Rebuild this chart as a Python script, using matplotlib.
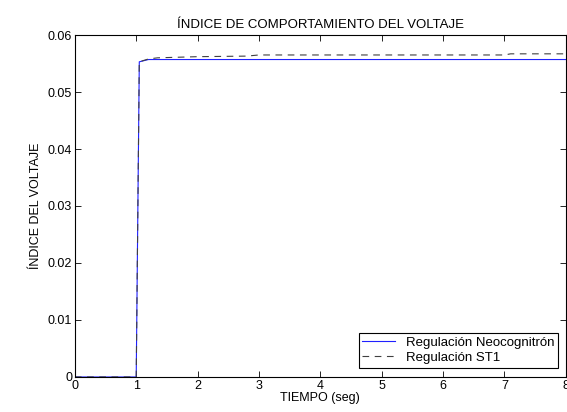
import matplotlib
matplotlib.use("Agg")
import matplotlib.pyplot as plt

plt.rcParams["font.family"] = ["Liberation Sans", "DejaVu Sans"]

# Time (s) and voltage index for each regulator
t_neo = [0.0, 1.0, 1.05, 1.2, 8.0]
v_neo = [0.0, 0.0, 0.0553, 0.0557, 0.0557]

t_st1 = [0.0, 1.0, 1.05, 1.2, 1.35, 2.0, 2.8, 3.0, 7.0, 7.1, 8.0]
v_st1 = [0.0, 0.0, 0.0553, 0.0558, 0.0560, 0.0562, 0.0563, 0.0565, 0.0565, 0.0567, 0.0567]

x_ticks = [0, 1, 2, 3, 4, 5, 6, 7, 8]
y_ticks = [0, 0.01, 0.02, 0.03, 0.04, 0.05, 0.06]
y_labels = ["0", "0.01", "0.02", "0.03", "0.04", "0.05", "0.06"]

fig = plt.figure(figsize=(5.67, 4.12), dpi=100)
ax = fig.add_axes([0.132, 0.085, 0.866, 0.83])

ax.plot(t_neo, v_neo, color="#2020ff", linewidth=0.8, label="Regulación Neocognitrón")
ax.plot(t_st1, v_st1, color="#404040", linewidth=0.8, linestyle=(0, (6, 5)),
        label="Regulación ST1")

ax.set_xlim(0, 8)
ax.set_ylim(0, 0.06)
ax.set_xticks(x_ticks)
ax.set_yticks(y_ticks)
ax.set_yticklabels(y_labels)
ax.tick_params(direction="in", top=True, right=True, labelsize=9, length=4, width=0.6,
               pad=2)
for s in ax.spines.values():
    s.set_linewidth(0.8)

ax.set_title("ÍNDICE DE COMPORTAMIENTO DEL VOLTAJE", fontsize=9.5, pad=5)
ax.set_xlabel("TIEMPO (seg)", fontsize=9, labelpad=0)
ax.set_ylabel("ÍNDICE DEL VOLTAJE", fontsize=9, labelpad=4)

leg = ax.legend(loc="lower right", fontsize=9.5, fancybox=False, framealpha=1,
                edgecolor="black", borderpad=0.3, handlelength=2.5,
                labelspacing=0.2, borderaxespad=0.3, bbox_to_anchor=(0.993, 0.015))
leg.get_frame().set_linewidth(0.8)

fig.savefig("out.png", dpi=100)
